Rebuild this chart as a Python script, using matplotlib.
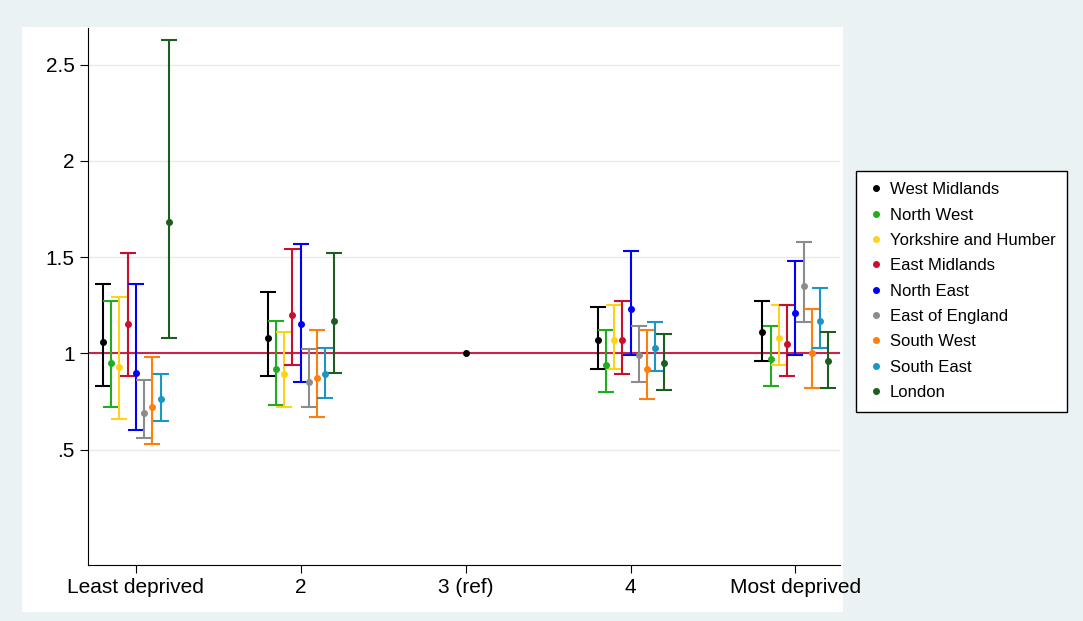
import matplotlib.pyplot as plt
import numpy as np
from matplotlib.patches import Rectangle
from matplotlib.lines import Line2D

plt.rcParams['font.family'] = ['Liberation Sans', 'DejaVu Sans']

regions = ["West Midlands", "North West", "Yorkshire and Humber", "East Midlands",
           "North East", "East of England", "South West", "South East", "London"]
colors = ["#000000", "#1fad1f", "#ffd21a", "#c8102e", "#0000ff",
          "#8c8c8c", "#ff7f0e", "#1a96c4", "#1b5e20"]
categories = ["Least deprived", "2", "3 (ref)", "4", "Most deprived"]

# rows: regions, cols: categories (3 (ref) is only drawn for West Midlands)
est = [[1.06, 1.08, 1.00, 1.07, 1.11],
       [0.95, 0.92, None, 0.94, 0.97],
       [0.93, 0.89, None, 1.07, 1.08],
       [1.15, 1.20, None, 1.07, 1.05],
       [0.90, 1.15, None, 1.23, 1.21],
       [0.69, 0.85, None, 0.99, 1.35],
       [0.72, 0.87, None, 0.92, 1.00],
       [0.76, 0.89, None, 1.03, 1.17],
       [1.68, 1.17, None, 0.95, 0.96]]
upper = [[1.36, 1.32, 1.00, 1.24, 1.27],
         [1.27, 1.17, None, 1.12, 1.14],
         [1.29, 1.11, None, 1.25, 1.25],
         [1.52, 1.54, None, 1.27, 1.25],
         [1.36, 1.57, None, 1.53, 1.48],
         [0.86, 1.02, None, 1.14, 1.58],
         [0.98, 1.12, None, 1.12, 1.23],
         [0.89, 1.03, None, 1.16, 1.34],
         [2.63, 1.52, None, 1.10, 1.11]]
lower = [[0.83, 0.88, 1.00, 0.92, 0.96],
         [0.72, 0.73, None, 0.80, 0.83],
         [0.66, 0.72, None, 0.92, 0.94],
         [0.88, 0.94, None, 0.89, 0.88],
         [0.60, 0.85, None, 0.99, 0.99],
         [0.56, 0.72, None, 0.85, 1.16],
         [0.53, 0.67, None, 0.76, 0.82],
         [0.65, 0.77, None, 0.91, 1.03],
         [1.08, 0.90, None, 0.81, 0.82]]

fig = plt.figure(figsize=(10.83, 6.21), dpi=100)
fig.patch.set_facecolor("#eaf2f3")
fig.patches.append(Rectangle((22 / 1083, 1 - 612 / 621), (843 - 22) / 1083, (612 - 27) / 621,
                             transform=fig.transFigure, facecolor="white", edgecolor="none", zorder=-10))
ax = fig.add_axes([88 / 1083, 1 - 565 / 621, (840 - 88) / 1083, (565 - 28) / 621])
ax.patch.set_alpha(0)

x = np.arange(1, 6)
for i, c in enumerate(colors):
    xs, ys, lo, hi = [], [], [], []
    for j in range(5):
        if est[i][j] is None:
            continue
        if j == 2:
            # reference category: point only
            ax.plot(x[j], est[i][j], "o", color=c, ms=4, zorder=3)
            continue
        xs.append(x[j] + (i - 4) * 0.05)
        ys.append(est[i][j])
        lo.append(est[i][j] - lower[i][j])
        hi.append(upper[i][j] - est[i][j])
    ax.errorbar(xs, ys, yerr=[lo, hi], fmt="o", color=c, ms=4, capsize=6,
                elinewidth=1.5, capthick=1.5, zorder=3)

ax.axhline(1, color="#c8254a", lw=1.5, zorder=2)
ax.set_xlim(0.71, 5.27)
ax.set_ylim(-0.1, 2.69)
ax.set_yticks([0.5, 1, 1.5, 2, 2.5])
ax.set_yticklabels([".5", "1", "1.5", "2", "2.5"], fontsize=15)
ax.set_xticks(x)
ax.set_xticklabels(categories, fontsize=15)
ax.tick_params(length=6)
ax.grid(axis="y", color="#eaeaea", lw=1)
ax.set_axisbelow(True)
for s in ["top", "right"]:
    ax.spines[s].set_visible(False)

handles = [Line2D([], [], ls="none", marker="o", ms=4, color=c) for c in colors]
fig.legend(handles, regions, loc="center left", bbox_to_anchor=(848 / 1083, 1 - 291 / 621), fontsize=12,
           frameon=True, fancybox=False, edgecolor="black", framealpha=1, handletextpad=0.3,
           handlelength=1, labelspacing=0.62, borderpad=0.7)
fig.savefig("out.png", dpi=100, facecolor=fig.get_facecolor())
